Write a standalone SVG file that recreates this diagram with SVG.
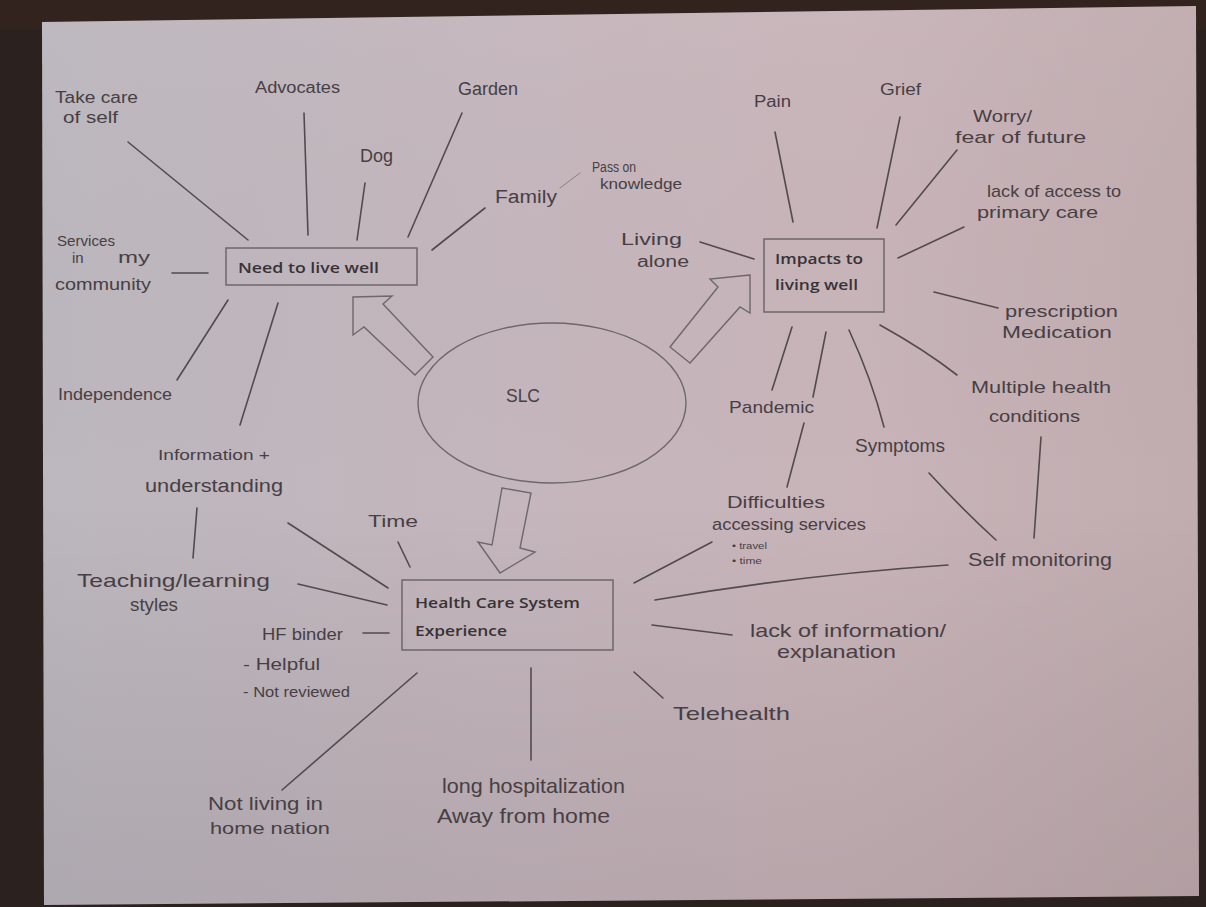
<svg xmlns="http://www.w3.org/2000/svg" width="1206" height="907" viewBox="0 0 1206 907">
  <defs>
    <linearGradient id="paperTone" x1="0" y1="0" x2="1" y2="0">
      <stop offset="0" stop-color="#bcb7be"/>
      <stop offset="0.45" stop-color="#c5b6bc"/>
      <stop offset="0.7" stop-color="#c8b4b9"/>
      <stop offset="1" stop-color="#c1acaf"/>
    </linearGradient>
    <linearGradient id="paperShade" x1="0" y1="0" x2="0" y2="1">
      <stop offset="0" stop-color="#ffffff" stop-opacity="0.03"/>
      <stop offset="0.55" stop-color="#000000" stop-opacity="0"/>
      <stop offset="1" stop-color="#2a1f28" stop-opacity="0.1"/>
    </linearGradient>
    <style>
      .hand { font-family: "Liberation Sans", "DejaVu Sans", sans-serif; fill: #473f44; font-weight: 400; }
      .typed { font-family: "Open Sans", "Liberation Sans", sans-serif; font-size: 15px; font-weight: 600; fill: #383236; }
      .box { fill: none; stroke: #6e676b; stroke-width: 1.5; }
      .ring { fill: none; stroke: #6e676b; stroke-width: 1.4; }
      .block { fill: none; stroke: #6e676b; stroke-width: 1.4; stroke-linejoin: miter; }
      .link { stroke: #534a4f; stroke-width: 1.6; stroke-linecap: round; fill: none; }
      .faint { stroke: #8a7f85; stroke-width: 1; }
    </style>
  </defs>

  <!-- table behind the sheet -->
  <rect x="0" y="0" width="1206" height="907" fill="#2b2220"/>
  <rect x="0" y="0" width="1206" height="30" fill="#33231f"/>

  <!-- sheet of paper -->
  <polygon points="42,22 1196,6 1199,896 44,905" fill="url(#paperTone)"/>
  <polygon points="42,22 1196,6 1199,896 44,905" fill="url(#paperShade)"/>

  <!-- connectors -->
  <g id="connectors">
    <line class="link" x1="128" y1="142" x2="248" y2="240"/>
    <line class="link" x1="304" y1="113" x2="308" y2="235"/>
    <line class="link" x1="365" y1="183" x2="357" y2="240"/>
    <line class="link" x1="462" y1="113" x2="408" y2="237"/>
    <line class="link" x1="485" y1="208" x2="432" y2="250"/>
    <line class="link faint" x1="560" y1="188" x2="580" y2="173"/>
    <line class="link" x1="172" y1="273" x2="208" y2="273"/>
    <line class="link" x1="228" y1="300" x2="177" y2="380"/>
    <line class="link" x1="278" y1="303" x2="240" y2="425"/>
    <line class="link" x1="197" y1="508" x2="193" y2="558"/>
    <line class="link" x1="288" y1="523" x2="388" y2="588"/>
    <line class="link" x1="398" y1="542" x2="410" y2="567"/>
    <line class="link" x1="298" y1="584" x2="387" y2="605"/>
    <line class="link" x1="363" y1="633" x2="389" y2="633"/>
    <line class="link" x1="417" y1="673" x2="282" y2="790"/>
    <line class="link" x1="531" y1="668" x2="531" y2="760"/>
    <line class="link" x1="634" y1="672" x2="663" y2="698"/>
    <line class="link" x1="652" y1="625" x2="732" y2="635"/>
    <path class="link" d="M655,600 Q800,575 948,565"/>
    <line class="link" x1="634" y1="583" x2="712" y2="542"/>
    <line class="link" x1="787" y1="487" x2="804" y2="423"/>
    <line class="link" x1="775" y1="132" x2="793" y2="222"/>
    <line class="link" x1="900" y1="117" x2="877" y2="228"/>
    <line class="link" x1="957" y1="150" x2="896" y2="225"/>
    <line class="link" x1="964" y1="227" x2="898" y2="258"/>
    <line class="link" x1="700" y1="242" x2="754" y2="259"/>
    <line class="link" x1="934" y1="292" x2="998" y2="308"/>
    <path class="link" d="M880,325 Q925,350 957,375"/>
    <path class="link" d="M849,330 Q872,380 884,427"/>
    <line class="link" x1="792" y1="327" x2="772" y2="390"/>
    <line class="link" x1="826" y1="332" x2="813" y2="397"/>
    <path class="link" d="M929,473 Q965,512 996,540"/>
    <line class="link" x1="1041" y1="437" x2="1034" y2="538"/>
  </g>

  <!-- hollow block arrows leaving the centre -->
  <g id="block-arrows">
    <polygon class="block" points="353,297 392,296 383,304 433,357 415,375 364,327 353,335"/>
    <polygon class="block" points="750,275 710,279 718,287 670,347 690,363 740,307 750,313"/>
    <polygon class="block" points="502,488 531,493 520,548 535,552 500,573 478,542 492,545"/>
  </g>

  <!-- central idea -->
  <g id="slc">
    <ellipse class="ring" cx="552" cy="403" rx="134" ry="80"/>
    <text class="hand" x="506" y="402" font-size="19" textLength="34" lengthAdjust="spacingAndGlyphs">SLC</text>
  </g>

  <!-- main branches -->
  <g id="need-to-live-well">
    <rect class="box" x="226" y="248" width="191" height="37"/>
    <text class="typed" x="238" y="273" textLength="141" lengthAdjust="spacingAndGlyphs">Need to live well</text>
  </g>
  <g id="impacts-to-living-well">
    <rect class="box" x="764" y="239" width="120" height="73"/>
    <text class="typed" x="775" y="264" textLength="88" lengthAdjust="spacingAndGlyphs">Impacts to</text>
    <text class="typed" x="775" y="290" textLength="83" lengthAdjust="spacingAndGlyphs">living well</text>
  </g>
  <g id="health-care-system-experience">
    <rect class="box" x="402" y="580" width="211" height="70"/>
    <text class="typed" x="415" y="608" textLength="165" lengthAdjust="spacingAndGlyphs">Health Care System</text>
    <text class="typed" x="415" y="636" textLength="92" lengthAdjust="spacingAndGlyphs">Experience</text>
  </g>

  <!-- needs -->
  <g id="take-care-of-self">
    <text class="hand" x="55" y="103" font-size="16" textLength="83" lengthAdjust="spacingAndGlyphs">Take care</text>
    <text class="hand" x="63" y="123" font-size="16" textLength="55" lengthAdjust="spacingAndGlyphs">of self</text>
  </g>
  <g id="advocates"><text class="hand" x="255" y="93" font-size="16" textLength="85" lengthAdjust="spacingAndGlyphs">Advocates</text></g>
  <g id="dog"><text class="hand" x="360" y="162" font-size="18" textLength="33" lengthAdjust="spacingAndGlyphs">Dog</text></g>
  <g id="garden"><text class="hand" x="458" y="95" font-size="18" textLength="60" lengthAdjust="spacingAndGlyphs">Garden</text></g>
  <g id="family"><text class="hand" x="495" y="203" font-size="18" textLength="62" lengthAdjust="spacingAndGlyphs">Family</text></g>
  <g id="pass-on-knowledge">
    <text class="hand" x="592" y="172" font-size="14" textLength="44" lengthAdjust="spacingAndGlyphs">Pass on</text>
    <text class="hand" x="600" y="189" font-size="14" textLength="82" lengthAdjust="spacingAndGlyphs">knowledge</text>
  </g>
  <g id="services-in-my-community">
    <text class="hand" x="57" y="246" font-size="15" textLength="58" lengthAdjust="spacingAndGlyphs">Services</text>
    <text class="hand" x="72" y="263" font-size="15">in</text>
    <text class="hand" x="118" y="263" font-size="16" textLength="32" lengthAdjust="spacingAndGlyphs">my</text>
    <text class="hand" x="55" y="290" font-size="17" textLength="96" lengthAdjust="spacingAndGlyphs">community</text>
  </g>
  <g id="independence"><text class="hand" x="58" y="400" font-size="17" textLength="114" lengthAdjust="spacingAndGlyphs">Independence</text></g>
  <g id="information-understanding">
    <text class="hand" x="158" y="460" font-size="15" textLength="112" lengthAdjust="spacingAndGlyphs">Information +</text>
    <text class="hand" x="145" y="492" font-size="18" textLength="138" lengthAdjust="spacingAndGlyphs">understanding</text>
  </g>

  <!-- health care system experience -->
  <g id="teaching-learning-styles">
    <text class="hand" x="77" y="587" font-size="19" textLength="193" lengthAdjust="spacingAndGlyphs">Teaching/learning</text>
    <text class="hand" x="130" y="611" font-size="18" textLength="48" lengthAdjust="spacingAndGlyphs">styles</text>
  </g>
  <g id="time"><text class="hand" x="368" y="527" font-size="16" textLength="50" lengthAdjust="spacingAndGlyphs">Time</text></g>
  <g id="hf-binder">
    <text class="hand" x="262" y="640" font-size="17" textLength="81" lengthAdjust="spacingAndGlyphs">HF binder</text>
    <text class="hand" x="243" y="670" font-size="17" textLength="77" lengthAdjust="spacingAndGlyphs">- Helpful</text>
    <text class="hand" x="243" y="697" font-size="15" textLength="107" lengthAdjust="spacingAndGlyphs">- Not reviewed</text>
  </g>
  <g id="not-living-in-home-nation">
    <text class="hand" x="208" y="810" font-size="18" textLength="115" lengthAdjust="spacingAndGlyphs">Not living in</text>
    <text class="hand" x="210" y="834" font-size="17" textLength="120" lengthAdjust="spacingAndGlyphs">home nation</text>
  </g>
  <g id="long-hospitalization">
    <text class="hand" x="442" y="793" font-size="21" textLength="183" lengthAdjust="spacingAndGlyphs">long hospitalization</text>
    <text class="hand" x="437" y="823" font-size="21" textLength="173" lengthAdjust="spacingAndGlyphs">Away from home</text>
  </g>
  <g id="telehealth"><text class="hand" x="673" y="720" font-size="19" textLength="117" lengthAdjust="spacingAndGlyphs">Telehealth</text></g>
  <g id="lack-of-information">
    <text class="hand" x="750" y="637" font-size="19" textLength="196" lengthAdjust="spacingAndGlyphs">lack of information/</text>
    <text class="hand" x="777" y="658" font-size="19" textLength="119" lengthAdjust="spacingAndGlyphs">explanation</text>
  </g>
  <g id="self-monitoring"><text class="hand" x="968" y="566" font-size="18" textLength="144" lengthAdjust="spacingAndGlyphs">Self monitoring</text></g>
  <g id="difficulties-accessing-services">
    <text class="hand" x="727" y="508" font-size="17" textLength="98" lengthAdjust="spacingAndGlyphs">Difficulties</text>
    <text class="hand" x="712" y="530" font-size="17" textLength="154" lengthAdjust="spacingAndGlyphs">accessing services</text>
    <text class="hand" x="732" y="549" font-size="9" textLength="35" lengthAdjust="spacingAndGlyphs">• travel</text>
    <text class="hand" x="732" y="564" font-size="9" textLength="30" lengthAdjust="spacingAndGlyphs">• time</text>
  </g>

  <!-- impacts -->
  <g id="pandemic"><text class="hand" x="729" y="413" font-size="17" textLength="85" lengthAdjust="spacingAndGlyphs">Pandemic</text></g>
  <g id="symptoms"><text class="hand" x="855" y="452" font-size="19" textLength="90" lengthAdjust="spacingAndGlyphs">Symptoms</text></g>
  <g id="multiple-health-conditions">
    <text class="hand" x="971" y="393" font-size="17" textLength="140" lengthAdjust="spacingAndGlyphs">Multiple health</text>
    <text class="hand" x="989" y="422" font-size="17" textLength="91" lengthAdjust="spacingAndGlyphs">conditions</text>
  </g>
  <g id="prescription-medication">
    <text class="hand" x="1005" y="317" font-size="17" textLength="113" lengthAdjust="spacingAndGlyphs">prescription</text>
    <text class="hand" x="1002" y="338" font-size="17" textLength="110" lengthAdjust="spacingAndGlyphs">Medication</text>
  </g>
  <g id="lack-of-access-to-primary-care">
    <text class="hand" x="987" y="197" font-size="17" textLength="134" lengthAdjust="spacingAndGlyphs">lack of access to</text>
    <text class="hand" x="977" y="218" font-size="17" textLength="121" lengthAdjust="spacingAndGlyphs">primary care</text>
  </g>
  <g id="worry-fear-of-future">
    <text class="hand" x="973" y="122" font-size="16" textLength="59" lengthAdjust="spacingAndGlyphs">Worry/</text>
    <text class="hand" x="955" y="143" font-size="17" textLength="131" lengthAdjust="spacingAndGlyphs">fear of future</text>
  </g>
  <g id="grief"><text class="hand" x="880" y="95" font-size="16" textLength="41" lengthAdjust="spacingAndGlyphs">Grief</text></g>
  <g id="pain"><text class="hand" x="754" y="107" font-size="16" textLength="37" lengthAdjust="spacingAndGlyphs">Pain</text></g>
  <g id="living-alone">
    <text class="hand" x="621" y="245" font-size="16" textLength="61" lengthAdjust="spacingAndGlyphs">Living</text>
    <text class="hand" x="637" y="267" font-size="16" textLength="52" lengthAdjust="spacingAndGlyphs">alone</text>
  </g>
</svg>
